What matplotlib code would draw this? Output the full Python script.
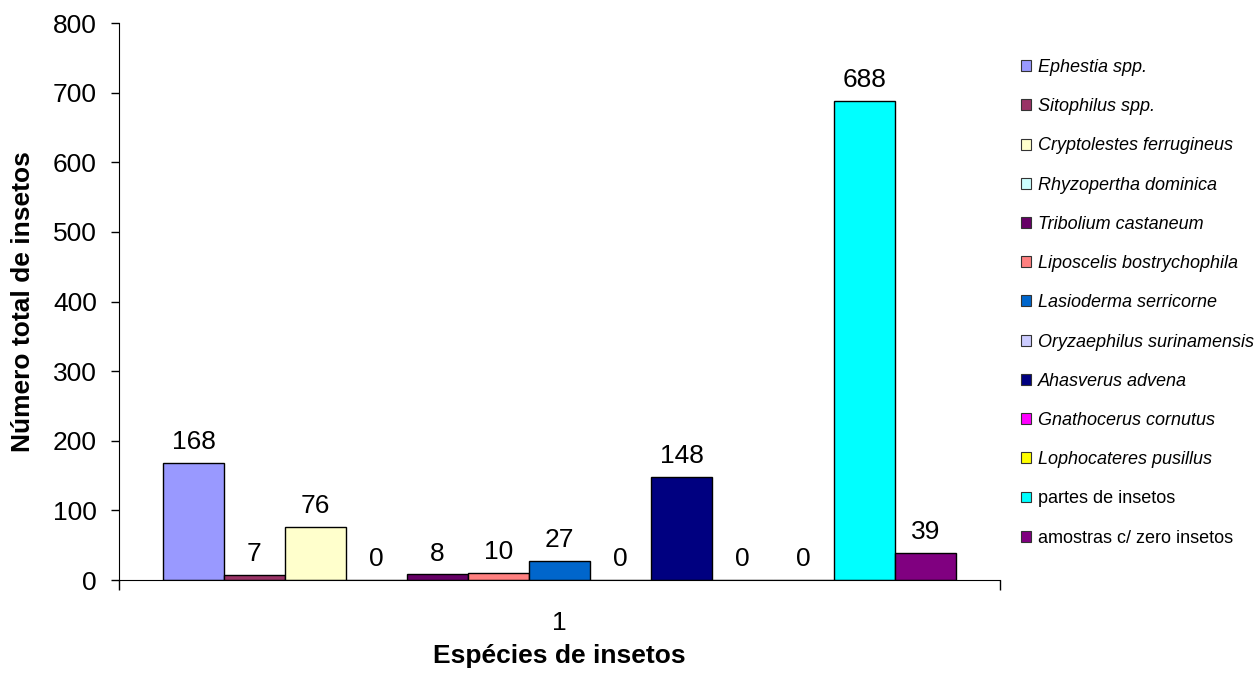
import numpy as np
import matplotlib.pyplot as plt
from matplotlib.patches import Patch

plt.rcParams['font.family'] = ['Liberation Sans', 'DejaVu Sans']

# Data
species = ['Ephestia spp.', 'Sitophilus spp.', 'Cryptolestes ferrugineus',
           'Rhyzopertha dominica', 'Tribolium castaneum', 'Liposcelis bostrychophila',
           'Lasioderma serricorne', 'Oryzaephilus surinamensis', 'Ahasverus advena',
           'Gnathocerus cornutus', 'Lophocateres pusillus', 'partes de insetos',
           'amostras c/ zero insetos']
italic = [True] * 11 + [False, False]
counts = [168, 7, 76, 0, 8, 10, 27, 0, 148, 0, 0, 688, 39]
colors = ['#9999FF', '#993366', '#FFFFCC', '#CCFFFF', '#660066', '#FF8080',
          '#0066CC', '#CCCCFF', '#000080', '#FF00FF', '#FFFF00', '#00FFFF', '#800080']
category = ['1']

fig = plt.figure(figsize=(12.58, 6.79), dpi=100)
ax = fig.add_axes([0.0946, 0.1458, 0.7004, 0.8203])

n = len(counts)
x = np.arange(n) - (n - 1) / 2
ax.bar(x, counts, width=1.0, color=colors, edgecolor='black', linewidth=1.0)
for xi, v in zip(x, counts):
    ax.annotate(str(v), (xi, v), xytext=(0, 10), textcoords='offset points',
                ha='center', va='baseline', fontsize=19)

pad = 0.72
ax.set_xlim(x[0] - 0.5 - pad, x[-1] + 0.5 + pad)
ax.set_ylim(0, 800)
ax.set_yticks(np.arange(0, 801, 100))
ax.tick_params(axis='y', labelsize=19, length=6, width=1.0, direction='out', pad=10)
ax.set_xticks([0])
ax.set_xticklabels(category, fontsize=19)
ax.tick_params(axis='x', which='major', length=0, pad=22)
ax.set_xticks([x[0] - 0.5 - pad, x[-1] + 0.5 + pad], minor=True)
ax.tick_params(axis='x', which='minor', length=7, width=1.0, direction='out')

for s in ['top', 'right']:
    ax.spines[s].set_visible(False)

ax.set_ylabel('Número total de insetos', fontsize=19, fontweight='bold')
ax.set_xlabel('Espécies de insetos', fontsize=19, fontweight='bold')
ax.xaxis.set_label_coords(0.5, -0.137)
ax.xaxis.label.set_va('center')
ax.yaxis.set_label_coords(-0.109, 0.5)
ax.yaxis.label.set_va('center')

handles = [Patch(facecolor=c, edgecolor='#333333', linewidth=0.8) for c in colors]
leg = fig.legend(handles, species, loc='upper left', bbox_to_anchor=(0.8115, 0.913),
                 frameon=False, fontsize=13, handlelength=0.55, handleheight=0.55,
                 handletextpad=0.4, labelspacing=1.23, borderpad=0, borderaxespad=0)
for t, it in zip(leg.get_texts(), italic):
    if it:
        t.set_style('italic')

fig.savefig('out.png', dpi=100)
